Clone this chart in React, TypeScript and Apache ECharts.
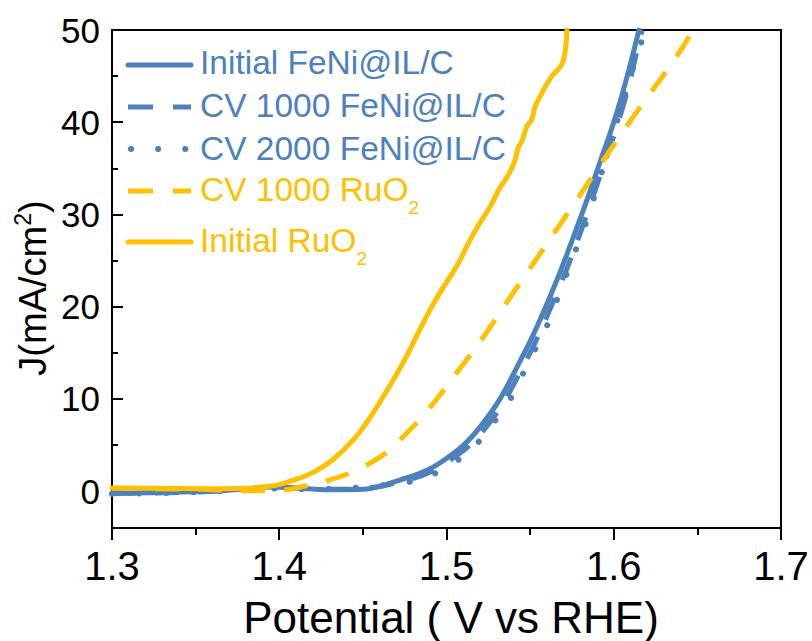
import React, { useEffect, useRef } from "react";
import * as echarts from "echarts";

// ---------- data (Potential V vs RHE, J mA/cm2) ----------
const seriesNames = [
  "Initial FeNi@IL/C",
  "CV 1000 FeNi@IL/C",
  "CV 2000 FeNi@IL/C",
  "CV 1000 RuO2",
  "Initial RuO2",
];

const initialFeNi: [number, number][] = [
  [1.3, -0.2], [1.33, -0.15], [1.36, 0.0], [1.38, 0.25], [1.395, 0.45], [1.41, 0.35],
  [1.43, 0.15], [1.45, 0.2], [1.46, 0.5], [1.472, 1.2], [1.482, 1.8], [1.492, 2.6],
  [1.502, 3.8], [1.512, 5.3], [1.522, 7.4], [1.532, 10.0], [1.542, 13.4], [1.552, 17.0],
  [1.564, 22.0], [1.571, 25.2], [1.578, 28.6], [1.585, 32.1], [1.592, 35.8], [1.6, 40.0],
  [1.607, 44.3], [1.614, 49.2], [1.615, 50],
];

const cv1000FeNi: [number, number][] = [
  [1.3, -0.25], [1.35, -0.1], [1.38, 0.2], [1.4, 0.35], [1.42, 0.25], [1.44, 0.2],
  [1.46, 0.5], [1.474, 1.1], [1.484, 1.6], [1.494, 2.4], [1.504, 3.6], [1.514, 5.0],
  [1.524, 7.0], [1.534, 9.6], [1.544, 12.9], [1.554, 16.5], [1.566, 21.5], [1.573, 24.6],
  [1.58, 28.0], [1.587, 31.6], [1.594, 35.4], [1.602, 39.6], [1.609, 44.0], [1.6155, 49.0],
  [1.617, 50],
];

const cv2000FeNi: [number, number][] = [
  [1.3, -0.3], [1.35, -0.1], [1.38, 0.15], [1.4, 0.3], [1.42, 0.2], [1.44, 0.3],
  [1.46, 0.6], [1.47, 0.8], [1.478, 1.0], [1.486, 1.4], [1.494, 2.0], [1.501, 2.8],
  [1.508, 3.5], [1.514, 4.4], [1.52, 5.5], [1.526, 6.9], [1.531, 8.1], [1.537, 9.6],
  [1.544, 12.1], [1.552, 15.0], [1.56, 17.9], [1.566, 20.7], [1.572, 23.6], [1.578, 26.5],
  [1.584, 29.4], [1.589, 32.3], [1.594, 35.3], [1.599, 38.3], [1.604, 41.3], [1.609, 44.3],
  [1.614, 47.3], [1.619, 50],
];

const cv1000RuO2: [number, number][] = [
  [1.3, 0.3], [1.35, 0.2], [1.38, 0.05], [1.4, 0.1], [1.418, 0.65], [1.43, 1.2],
  [1.442, 1.95], [1.455, 3.1], [1.466, 4.45], [1.472, 5.5], [1.488, 8.6], [1.506, 12.8],
  [1.522, 16.7], [1.538, 21.0], [1.552, 24.7], [1.572, 30.0], [1.588, 34.3], [1.604, 38.6],
  [1.62, 42.7], [1.636, 46.7], [1.647, 49.8], [1.648, 50],
];

const initialRuO2: [number, number][] = [
  [1.3, 0.35], [1.33, 0.3], [1.36, 0.25], [1.38, 0.3], [1.393, 0.5], [1.4, 0.7],
  [1.412, 1.4], [1.422, 2.2], [1.432, 3.4], [1.444, 5.5], [1.4525, 7.5], [1.46, 9.6],
  [1.468, 12.0], [1.476, 14.6], [1.484, 17.5], [1.49, 19.6], [1.496, 21.5], [1.502, 23.2],
  [1.508, 25.0], [1.512, 26.5], [1.519, 28.8], [1.526, 30.8], [1.528, 31.5], [1.531, 32.6],
  [1.536, 34.0], [1.539, 35.0], [1.541, 35.9], [1.543, 37.3], [1.545, 37.9], [1.548, 39.5],
  [1.551, 40.3], [1.553, 41.7], [1.556, 42.8], [1.558, 43.5], [1.563, 45.0], [1.568, 46.0],
  [1.57, 46.8], [1.5715, 48.5], [1.572, 50],
];

const yMajorTicks = [0, 10, 20, 30, 40, 50];
const yMinorTicks = [5, 15, 25, 35, 45];

// ---------- styles ----------
const BLUE = "#4C81BE";
const GOLD = "#FFC000";
const FONT = '"Liberation Sans", Arial, sans-serif';

const seriesData = [initialFeNi, cv1000FeNi, cv2000FeNi, cv1000RuO2, initialRuO2];
const seriesColors = [BLUE, BLUE, BLUE, GOLD, GOLD];
const seriesDash: any[] = ["solid", [24, 19], [0.1, 27], [24, 19], "solid"];
const seriesCap = ["round", "butt", "round", "butt", "round"];
const seriesWidth = [5, 5, 6, 5, 5];

const legendLineY = [65, 107, 149, 191, 242];
const legendTextY = [62.5, 105.5, 148.5, 189.5, 240.5];

export default function App() {
  const ref = useRef<HTMLDivElement>(null);

  useEffect(() => {
    if (!ref.current) return;
    const chart = echarts.init(ref.current, undefined, { renderer: "svg" });
    const axisLine = { color: "#000", width: 2 };

    const series = seriesNames.map((name, i) => ({
      type: "line",
      name,
      data: seriesData[i],
      symbol: "none",
      showSymbol: false,
      smooth: 0.4,
      clip: true,
      lineStyle: {
        color: seriesColors[i],
        width: seriesWidth[i],
        type: seriesDash[i],
        cap: seriesCap[i],
        join: "round",
      },
      z: 2 + i,
    }));

    const legendGraphics: any[] = [];
    seriesNames.forEach((name, i) => {
      const dash = seriesDash[i];
      legendGraphics.push({
        type: "line",
        shape: { x1: i === 2 ? 131 : 128, y1: legendLineY[i], x2: 191, y2: legendLineY[i] },
        style: {
          stroke: seriesColors[i],
          lineWidth: seriesWidth[i],
          lineDash: Array.isArray(dash) ? (i === 2 ? [0.1, 27] : [25, 20]) : null,
          lineCap: seriesCap[i],
        },
        z: 10,
      });
      const m = name.match(/^(.*RuO)2$/);
      if (m) {
        legendGraphics.push({
          type: "text",
          x: 200,
          y: legendTextY[i],
          style: {
            text: `{m|${m[1]}}{s|2}`,
            verticalAlign: "middle",
            align: "left",
            fill: seriesColors[i],
            rich: {
              m: { fontSize: 33.5, fontFamily: FONT, lineHeight: 54, fill: seriesColors[i] },
              s: { fontSize: 19, fontFamily: FONT, lineHeight: 54, verticalAlign: "bottom", fill: seriesColors[i] },
            },
          },
          z: 10,
        });
      } else {
        legendGraphics.push({
          type: "text",
          x: 200,
          y: legendTextY[i],
          style: {
            text: name,
            fontSize: 33.5,
            fontFamily: FONT,
            verticalAlign: "middle",
            align: "left",
            fill: seriesColors[i],
          },
          z: 10,
        });
      }
    });

    chart.setOption({
      animation: false,
      backgroundColor: "#fff",
      grid: {
        left: 112,
        right: 31,
        top: 30,
        bottom: 113,
        show: true,
        borderColor: "#000",
        borderWidth: 2,
        backgroundColor: "transparent",
      },
      xAxis: {
        type: "value",
        min: 1.3,
        max: 1.7,
        interval: 0.1,
        axisLine: { show: true, onZero: false, lineStyle: axisLine },
        axisTick: { show: true, length: 12, lineStyle: axisLine },
        minorTick: { show: true, splitNumber: 2, length: 7, lineStyle: axisLine },
        splitLine: { show: false },
        minorSplitLine: { show: false },
        axisLabel: {
          fontSize: 40,
          fontFamily: FONT,
          color: "#000",
          margin: 18,
          formatter: (v: number) => v.toFixed(1),
        },
      },
      yAxis: [
        {
          type: "value",
          min: -4,
          max: 50,
          position: "left",
          axisLine: { show: true, onZero: false, lineStyle: axisLine },
          axisTick: { show: true, inside: true, length: 11, customValues: yMajorTicks, lineStyle: axisLine },
          axisLabel: {
            customValues: yMajorTicks,
            fontSize: 35,
            fontFamily: FONT,
            color: "#000",
            margin: 12,
          },
          splitLine: { show: false },
        },
        {
          type: "value",
          min: -4,
          max: 50,
          position: "left",
          axisLine: { show: false, onZero: false },
          axisTick: { show: true, inside: true, length: 6, customValues: yMinorTicks, lineStyle: axisLine },
          axisLabel: { show: false },
          splitLine: { show: false },
        },
      ],
      series,
      graphic: [
        ...legendGraphics,
        {
          type: "text",
          x: 451,
          y: 617,
          style: {
            text: "Potential ( V vs RHE)",
            fontSize: 44,
            fontFamily: FONT,
            fill: "#000",
            align: "center",
            verticalAlign: "middle",
          },
        },
        {
          type: "text",
          x: 33,
          y: 288,
          rotation: Math.PI / 2,
          style: {
            text: "{m|J(mA/cm}{s|2}{m|)}",
            align: "center",
            verticalAlign: "middle",
            fill: "#000",
            rich: {
              m: { fontSize: 38, fontFamily: FONT, lineHeight: 44, fill: "#000" },
              s: { fontSize: 23, fontFamily: FONT, lineHeight: 44, verticalAlign: "top", fill: "#000" },
            },
          },
        },
      ],
    });

    return () => chart.dispose();
  }, []);

  return (
    <div
      ref={ref}
      style={{ position: "fixed", left: 0, top: 0, width: 812, height: 641 }}
    />
  );
}
